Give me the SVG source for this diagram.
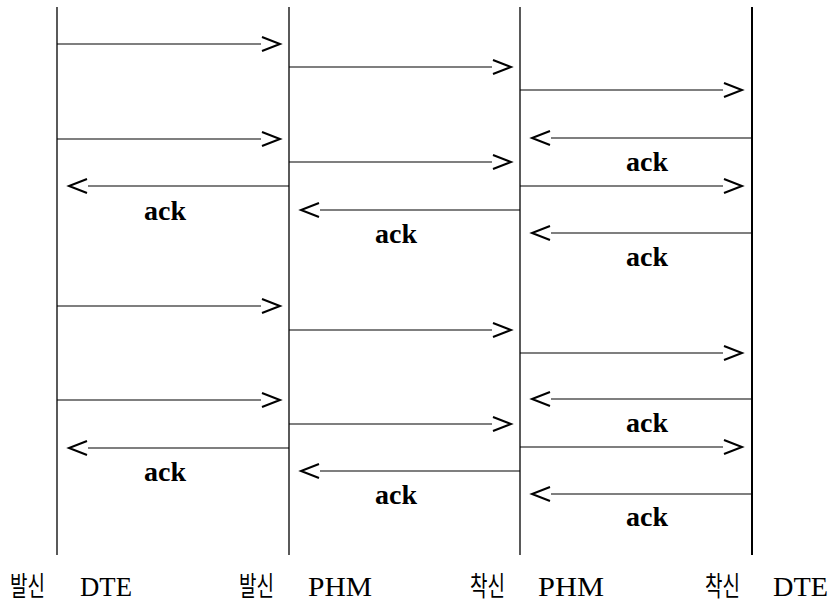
<svg xmlns="http://www.w3.org/2000/svg" width="838" height="604" viewBox="0 0 838 604">
  <style>
    .life { stroke: #000; fill: none; }
    .msg { stroke: #000; stroke-width: 1.2; fill: none; }
    .head { stroke: #000; stroke-width: 2; fill: none; stroke-linejoin: miter; }
    .ack { font-family: "Liberation Serif", "Times New Roman", serif; font-weight: bold; font-size: 28px; text-anchor: middle; fill: #000; }
    .lat { font-family: "Liberation Serif", "Times New Roman", serif; font-size: 28px; fill: #000; }
    .kor { font-family: "Noto Sans CJK KR", "Liberation Serif", serif; font-size: 27px; fill: #000; }
  </style>

  <!-- lifelines with their labels -->
  <g id="src-dte">
    <line class="life" x1="57" y1="7" x2="57" y2="555" stroke-width="1.3"/>
    <text class="kor" x="10" y="596" textLength="35" lengthAdjust="spacingAndGlyphs">발신</text>
    <text class="lat" x="80" y="596" textLength="52" lengthAdjust="spacingAndGlyphs">DTE</text>
  </g>
  <g id="src-phm">
    <line class="life" x1="289" y1="7" x2="289" y2="555" stroke-width="1.3"/>
    <text class="kor" x="239" y="596" textLength="35" lengthAdjust="spacingAndGlyphs">발신</text>
    <text class="lat" x="308" y="596" textLength="64" lengthAdjust="spacingAndGlyphs">PHM</text>
  </g>
  <g id="dst-phm">
    <line class="life" x1="520" y1="7" x2="520" y2="555" stroke-width="1.3"/>
    <text class="kor" x="470" y="596" textLength="35" lengthAdjust="spacingAndGlyphs">착신</text>
    <text class="lat" x="538" y="596" textLength="66" lengthAdjust="spacingAndGlyphs">PHM</text>
  </g>
  <g id="dst-dte">
    <line class="life" x1="752" y1="7" x2="752" y2="555" stroke-width="2"/>
    <text class="kor" x="705" y="596" textLength="35" lengthAdjust="spacingAndGlyphs">착신</text>
    <text class="lat" x="773" y="596" textLength="55" lengthAdjust="spacingAndGlyphs">DTE</text>
  </g>

  <!-- messages -->
  <g id="connectors">
    <!-- 발신 DTE -> 발신 PHM -->
    <path class="msg" d="M57 44H261"/><path class="head" d="M262 37L280 44L262 51"/>
    <path class="msg" d="M57 139H261"/><path class="head" d="M262 132L280 139L262 146"/>
    <path class="msg" d="M57 306H261"/><path class="head" d="M262 299L280 306L262 313"/>
    <path class="msg" d="M57 400H261"/><path class="head" d="M262 393L280 400L262 407"/>

    <!-- 발신 PHM -> 착신 PHM -->
    <path class="msg" d="M289 67H492"/><path class="head" d="M493 60L511 67L493 74"/>
    <path class="msg" d="M289 162H492"/><path class="head" d="M493 155L511 162L493 169"/>
    <path class="msg" d="M289 330H492"/><path class="head" d="M493 323L511 330L493 337"/>
    <path class="msg" d="M289 424H492"/><path class="head" d="M493 417L511 424L493 431"/>

    <!-- 착신 PHM -> 착신 DTE -->
    <path class="msg" d="M520 90H723"/><path class="head" d="M724 83L742 90L724 97"/>
    <path class="msg" d="M520 186H723"/><path class="head" d="M724 179L742 186L724 193"/>
    <path class="msg" d="M520 353H723"/><path class="head" d="M724 346L742 353L724 360"/>
    <path class="msg" d="M520 447H723"/><path class="head" d="M724 440L742 447L724 454"/>

    <!-- 착신 DTE -> 착신 PHM (ack) -->
    <path class="msg" d="M752 138H551"/><path class="head" d="M550 131L532 138L550 145"/>
    <text class="ack" x="647" y="171">ack</text>
    <path class="msg" d="M752 233H551"/><path class="head" d="M550 226L532 233L550 240"/>
    <text class="ack" x="647" y="266">ack</text>
    <path class="msg" d="M752 399H551"/><path class="head" d="M550 392L532 399L550 406"/>
    <text class="ack" x="647" y="432">ack</text>
    <path class="msg" d="M752 494H551"/><path class="head" d="M550 487L532 494L550 501"/>
    <text class="ack" x="647" y="526">ack</text>

    <!-- 착신 PHM -> 발신 PHM (ack) -->
    <path class="msg" d="M520 210H320"/><path class="head" d="M319 203L301 210L319 217"/>
    <text class="ack" x="396" y="243">ack</text>
    <path class="msg" d="M520 471H320"/><path class="head" d="M319 464L301 471L319 478"/>
    <text class="ack" x="396" y="504">ack</text>

    <!-- 발신 PHM -> 발신 DTE (ack) -->
    <path class="msg" d="M289 186H88"/><path class="head" d="M87 179L69 186L87 193"/>
    <text class="ack" x="165" y="220">ack</text>
    <path class="msg" d="M289 448H88"/><path class="head" d="M87 441L69 448L87 455"/>
    <text class="ack" x="165" y="481">ack</text>
  </g>
</svg>
